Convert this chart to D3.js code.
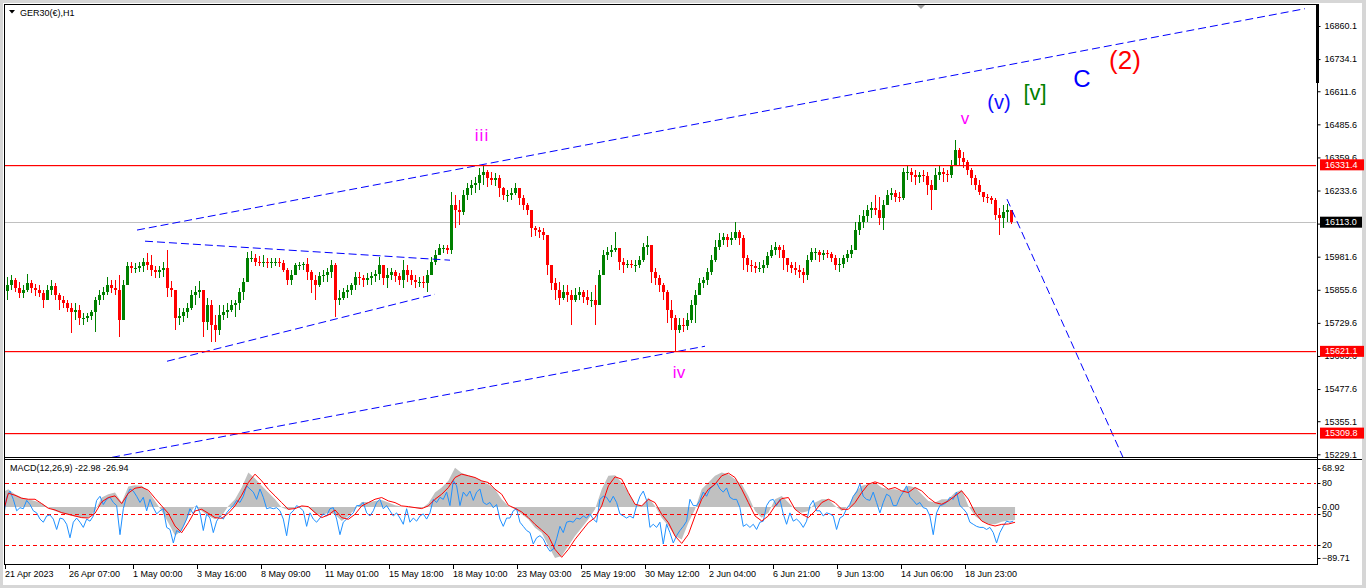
<!DOCTYPE html>
<html><head><meta charset="utf-8">
<script src="https://cdn.jsdelivr.net/npm/d3@7/dist/d3.min.js"></script>
<style>
html,body{margin:0;padding:0;background:#d6d6d6;overflow:hidden;}
svg{display:block;}
text{font-family:"Liberation Sans",Arial,sans-serif;}
</style></head><body>
<svg id="c" width="1366" height="588"></svg>
<script>
// ---------------- DATA ----------------
const symbolTitle = "GER30(€),H1";
const macdTitle = "MACD(12,26,9) -22.98 -26.94";
const barHours = 4;              // each candle below aggregates 4 H1 bars
const firstOpen = 15850;
const hi = [
15904,15911,15900,15884,15873,15915,15892,15877,15873,15854,
15873,15892,15881,15843,15831,15816,15804,15804,15797,15766,
15766,15778,15827,15854,15865,15904,15892,15892,15911,15892,
15961,15961,15957,15961,15976,15995,15987,15946,15946,15961,
16006,15888,15854,15785,15785,15804,15854,15869,15888,15854,
15824,15816,15759,15797,15797,15804,15816,15816,15862,15900,
15999,16003,15991,15984,15987,15976,15976,15976,15976,15968,
15938,15930,15957,15961,15961,15976,15930,15911,15923,15930,
15938,15968,15957,15854,15862,15873,15881,15923,15923,15911,
15919,15923,15930,15980,15949,15938,15938,15930,15919,15968,
15949,15930,15911,15904,15907,15930,15980,16006,16029,16026,
16026,16228,16216,16197,16235,16262,16273,16285,16319,16331,
16311,16304,16300,16292,16247,16235,16243,16262,16235,16216,
16186,16159,16098,16094,16090,16064,15949,15900,15884,15873,
15873,15854,15862,15865,15854,15854,15846,15873,15930,16006,
16018,16026,16075,16014,15976,15968,15968,15968,15984,16033,
16060,16026,15938,15911,15881,15854,15816,15759,15747,15747,
15766,15816,15854,15900,15904,15938,15987,16045,16071,16071,
16067,16075,16113,16083,16064,15987,15968,15961,15961,15968,
15999,16026,16037,16026,16026,15976,15961,15961,15949,15938,
15987,16014,16014,16006,16006,16006,15999,15987,15976,15987,
16006,16026,16113,16140,16159,16178,16189,16216,16208,16197,
16235,16243,16235,16228,16319,16330,16319,16311,16304,16311,
16304,16273,16319,16327,16319,16311,16349,16426,16395,16380,
16349,16319,16292,16273,16220,16220,16212,16205,16166,16178,
16182,16159];
const lo = [
15816,15854,15846,15824,15824,15846,15843,15831,15827,15785,
15816,15835,15816,15778,15785,15770,15690,15740,15721,15721,
15732,15740,15694,15797,15816,15835,15843,15835,15675,15740,
15892,15919,15919,15923,15923,15930,15907,15900,15900,15904,
15827,15827,15702,15721,15732,15747,15778,15797,15824,15675,
15702,15656,15656,15682,15740,15747,15770,15751,15778,15816,
15892,15961,15946,15946,15942,15938,15938,15946,15942,15923,
15873,15873,15911,15930,15930,15892,15843,15816,15865,15884,
15884,15900,15751,15797,15816,15824,15835,15854,15873,15865,
15873,15873,15884,15892,15873,15862,15892,15884,15873,15862,
15884,15873,15862,15865,15862,15846,15911,15949,15987,15995,
15991,15991,16090,16102,16140,16197,16216,16224,16235,16254,
16247,16254,16250,16208,16197,16189,16197,16216,16178,16159,
16140,16056,16060,16052,16045,15911,15854,15816,15797,15816,
15808,15721,15808,15816,15804,15797,15789,15721,15797,15911,
15968,15980,15999,15930,15919,15938,15938,15923,15938,15961,
15987,15881,15873,15846,15816,15728,15702,15621,15690,15694,
15702,15728,15728,15854,15862,15873,15911,15961,16006,16026,
16018,16026,16045,16026,15930,15923,15923,15919,15923,15919,
15938,15976,15987,15976,15930,15923,15919,15911,15900,15881,
15892,15961,15968,15961,15968,15976,15961,15930,15923,15938,
15961,15976,16006,16064,16090,16113,16128,16140,16102,16083,
16189,16197,16189,16189,16197,16273,16266,16254,16262,16266,
16216,16159,16243,16273,16266,16266,16281,16330,16330,16319,
16292,16254,16235,16216,16189,16186,16182,16121,16064,16090,
16113,16106];
const cl = [
15873,15892,15862,15843,15854,15881,15862,15854,15843,15816,
15854,15869,15835,15816,15804,15785,15770,15778,15747,15747,
15755,15770,15816,15835,15846,15873,15862,15854,15740,15873,
15946,15938,15938,15946,15961,15949,15930,15923,15930,15938,
15862,15854,15747,15755,15770,15785,15835,15846,15854,15732,
15797,15721,15702,15759,15770,15778,15797,15804,15846,15884,
15976,15976,15961,15957,15961,15957,15961,15961,15957,15930,
15892,15911,15949,15949,15953,15923,15892,15873,15907,15911,
15923,15949,15816,15824,15846,15854,15873,15904,15900,15892,
15900,15907,15915,15949,15900,15911,15923,15907,15892,15930,
15911,15892,15884,15884,15881,15911,15961,15987,16014,16014,
16006,16178,16159,16151,16216,16243,16254,16262,16292,16304,
16281,16273,16281,16243,16216,16216,16224,16243,16205,16178,
16159,16090,16083,16075,16064,15949,15881,15854,15824,15846,
15835,15816,15835,15846,15827,15816,15816,15797,15911,15987,
15999,16006,16014,15961,15949,15953,15949,15949,15968,16018,
16026,15923,15900,15873,15846,15778,15747,15702,15721,15717,
15740,15797,15835,15881,15892,15923,15968,16018,16045,16056,
16045,16052,16075,16052,15976,15949,15946,15938,15938,15949,
15984,16006,16018,16006,15976,15949,15938,15930,15923,15911,
15968,15999,15999,15987,15995,15991,15976,15949,15953,15976,
15991,16006,16083,16113,16136,16159,16166,16159,16128,16178,
16216,16224,16208,16205,16304,16304,16292,16285,16292,16288,
16254,16235,16292,16304,16296,16292,16330,16388,16357,16342,
16311,16281,16254,16228,16208,16205,16197,16140,16128,16151,
16159,16113];

const bidPrice = 16113.0;
const levelPrices = [16331.4, 15621.1, 15309.8];
const priceTicks = [16860.1,16734.1,16611.6,16485.6,16359.6,16233.6,16107.6,15981.6,15855.6,15729.6,15603.6,15477.6,15355.1,15229.1];
const priceDomain = [15229.1, 16860.1];

const timeLabels = ["21 Apr 2023","26 Apr 07:00","1 May 00:00","3 May 16:00","8 May 09:00","11 May 01:00","15 May 18:00","18 May 10:00","23 May 03:00","25 May 19:00","30 May 12:00","2 Jun 04:00","6 Jun 21:00","9 Jun 13:00","14 Jun 06:00","18 Jun 23:00"];
const hoursPerLabel = 64;

// trend lines: [hourA, priceA, hourB, priceB]
const trendLines = [
  [132,16083, 1300,16926],
  [107,15217.5, 700,15640.6],
  [162,15583.5, 430,15838.8],
  [140,16040.7, 445,15968.3],
  [1002,16200.8, 1118,15217.5]
];

// Elliott wave labels
const waveText  = ["iii","iv","v","(v)","[v]","C","(2)"];
const waveHour  = [477, 674, 960, 994, 1030, 1077, 1120];
const wavePrice = [16445, 15541, 16510, 16570, 16609, 16658, 16730];

// MACD histogram (main) and signal, sampled every ~6.67 hours
const macdStartHour = -3.33, macdStepHours = 6.667;
const macdMain = [
25.3,31.1,22.3,16.5,13.5,10.6,6.5,-1.2,-7.1,-11.2,
-14.1,-17.0,-18.8,-18.8,-7.1,16.5,22.3,25.3,7.6,35.8,
38.2,37.0,28.2,10.6,-7.1,-27.6,-50.0,-42.3,-15.9,1.8,
-7.1,-15.9,-21.7,-15.9,1.8,13.5,34.1,60.5,50.0,37.0,
25.3,13.5,-1.2,-5.3,-1.2,1.8,-1.2,-11.2,-14.7,-10.0,
-12.9,-24.7,-15.9,-4.1,8.8,8.8,10.6,12.3,7.6,2.9,
0.6,-1.2,-1.8,-2.9,6.5,25.3,34.1,45.8,68.92,59.4,
55.8,51.7,45.8,40.0,31.1,
13.5,1.8,-4.1,-12.9,-21.7,-36.4,-45.3,-68.8,-89.71,-86.4,
-68.8,-51.1,-36.4,-21.7,-4.1,31.1,54.7,55.8,42.9,25.3,
4.7,1.8,16.5,1.8,-18.8,-33.5,-51.1,-57.0,-27.6,-4.1,
31.1,42.9,54.7,60.5,57.6,48.8,40.0,19.4,-7.1,-18.8,
-10.0,13.5,19.4,7.6,-4.1,-10.0,-7.1,7.6,13.5,13.5,
1.8,-7.1,1.8,25.3,37.0,40.0,42.9,34.1,31.1,31.1,
28.2,37.0,34.1,22.3,10.6,7.6,13.5,13.5,25.3,30.0,
1.8,-15.9,-24.7,-30.6,-30.6,-26.0,-24.0,-22.98];
const macdSignal = [
-18.8,24.1,20.6,15.3,13.5,13.5,5.9,-2.4,-5.3,-10.0,
-12.9,-15.9,-18.8,-19.4,-11.2,8.8,16.5,19.4,5.9,24.1,
32.9,34.7,29.4,15.3,1.8,-11.2,-33.5,-45.3,-27.6,-7.1,
-4.1,-11.2,-18.8,-20.0,-11.2,1.8,20.6,42.9,57.6,45.8,
31.1,19.4,7.6,-4.1,-2.9,1.8,0.6,-10.0,-18.8,-14.1,
-5.3,-18.8,-21.7,-12.9,1.8,7.6,13.5,16.5,10.6,7.6,
1.8,0.6,-1.2,-2.9,1.8,13.5,22.3,34.1,51.7,57.6,
54.7,51.7,45.8,42.9,31.1,
22.3,2.9,-2.4,-8.8,-18.8,-30.6,-40.6,-51.1,-74.6,-88.5,
-74.6,-57.0,-42.3,-27.6,-18.8,1.8,37.0,52.9,48.8,25.3,
4.7,1.8,13.5,7.6,-12.9,-27.6,-51.1,-64.1,-48.2,-15.9,
13.5,31.1,40.0,54.7,59.4,51.7,31.1,7.6,-15.9,-24.7,
-15.9,1.8,14.7,16.5,-4.1,-12.9,-18.8,-7.1,7.6,13.5,
7.6,-4.1,-4.1,7.6,25.3,40.0,44.1,40.0,31.1,34.1,
28.2,25.3,34.1,28.2,16.5,7.6,4.7,10.6,19.4,28.2,
13.5,-10.0,-24.7,-30.6,-33.5,-30.6,-30.0,-26.94];
const macdLabels = [68.92, 0.00, -89.71];

// Oscillator (0-100 scale) drawn in the same sub-window, every ~3.33 hours
const oscStartHour = -1.67, oscStepHours = 3.333;
const osc = [
46,66,72,64,53,56,55,63,59,53, 51,45,42,48,49,45,35,46,45,40,
27,42,46,42,37,45,43,48,63,67, 59,64,66,61,58,30,55,67,74,72,
67,61,66,53,64,56,50,53,55,37, 35,22,34,32,38,45,55,50,58,51,
34,50,46,32,43,48,45,51,55,58, 63,61,67,77,74,71,64,74,66,55,
56,55,56,53,45,29,50,53,58,56, 53,38,51,45,42,46,50,48,55,56,
45,30,42,45,48,51,58,58,61,51, 48,53,61,64,55,58,53,48,51,46,
40,55,42,46,43,48,50,45,51,64, 61,66,64,71,58,82,77,58,71,67,
72,63,71,74,61,59,61,56,59,
45,38,46,46,53,55,42,38,34,32, 21,27,29,26,19,14,16,26,38,32,
42,43,42,46,45,48,46,50,45,42, 64,67,66,61,67,61,50,48,46,48,
46,58,67,72,63,37,40,37,42,21, 40,32,22,29,34,38,43,64,58,58,
63,71,67,74,77,80,74,71,75,66, 64,64,56,38,40,37,40,35,42,43,
58,63,64,58,64,50,40,51,43,45, 42,37,43,58,63,53,53,48,51,50,
48,35,46,48,55,59,67,71,79,67, 64,63,71,61,51,61,69,67,58,58,
66,71,77,66,63,59,61,56,55,48, 30,51,58,59,61,66,64,71,58,55,
51,42,40,38,37,37,35,37,32,22, 32,38,43,42,43];
const oscLevels = [80, 50, 20];

// ---------------- STYLE / LAYOUT ----------------
const L = 5, R = 1316, AX = 1317.5;
const mainTop = 5, mainBot = 457, subTop = 460, subBot = 564;
const upColor = "#008000", dnColor = "#ff0000";
const levelColor = "rgb(255,0,0)";
const waveColor = ["#ff00ff","#ff00ff","#ff00ff","#1010ff","#008000","#0000ff","#ff0000"];
const waveSize  = [17,17,17,20,22,24,26];
const FONT = 9;

const svg = d3.select("#c");
svg.append("rect").attr("width",1366).attr("height",588).attr("fill","#d6d6d6");
svg.append("rect").attr("x",3).attr("y",3).attr("width",1359).attr("height",582).attr("fill","#ffffff");

const x = d3.scaleLinear().domain([0, R - L]).range([L, R]);
const y = d3.scaleLinear().domain(priceDomain).range([454.3, 26]);
const mY = d3.scaleLinear().domain(d3.extent(macdMain.concat(macdSignal))).range([558, 467.7]);
const oY = d3.scaleLinear().domain([0,100]).range([565.8, 462]);

const defs = svg.append("defs");
defs.append("clipPath").attr("id","cm").append("rect").attr("x",L).attr("y",mainTop).attr("width",R-L).attr("height",mainBot-mainTop);
defs.append("clipPath").attr("id","cs").append("rect").attr("x",L).attr("y",subTop).attr("width",R-L).attr("height",subBot-subTop);

// bid line
svg.append("rect").attr("x",L).attr("width",R-L).attr("y",Math.round(y(bidPrice))).attr("height",1)
  .style("fill","#c0c0c0");

const gm = svg.append("g").attr("clip-path","url(#cm)");

// candles
const candles = hi.map((h,i)=>{
  const o = i===0 ? firstOpen : cl[i-1];
  return {i, o, h, l: lo[i], c: cl[i]};
});
const gc = gm.append("g").attr("shape-rendering","crispEdges");
gc.selectAll("line").data(candles).join("line")
  .attr("x1",d=>x(d.i*barHours+2)).attr("x2",d=>x(d.i*barHours+2))
  .attr("y1",d=>y(Math.max(d.h,d.o))).attr("y2",d=>y(Math.min(d.l,d.o)))
  .style("stroke",d=>d.c>=d.o?upColor:dnColor).style("stroke-width",1);
gc.selectAll("rect").data(candles).join("rect")
  .attr("x",d=>x(d.i*barHours+0.5)).attr("width",3)
  .attr("y",d=>y(Math.max(d.o,d.c))).attr("height",d=>Math.max(1,Math.abs(y(d.o)-y(d.c))))
  .style("fill",d=>d.c>=d.o?upColor:dnColor);

// trend lines
const gTr = gm.append("g");
gTr.selectAll("line").data(trendLines).join("line")
  .attr("x1",d=>x(d[0])).attr("y1",d=>y(d[1])).attr("x2",d=>x(d[2])).attr("y2",d=>y(d[3]))
  .style("stroke","#0000ff").style("stroke-width",1).style("stroke-dasharray","8,4");

// wave labels
const gWv = gm.append("g");
gWv.selectAll("text").data(waveText).join("text")
  .attr("x",(d,i)=>x(waveHour[i])).attr("y",(d,i)=>y(wavePrice[i])).attr("dy","0.35em")
  .attr("text-anchor","middle").style("fill",(d,i)=>waveColor[i]).attr("font-size",(d,i)=>waveSize[i])
  .attr("letter-spacing",(d,i)=>i===0?1:0).text(d=>d);

// horizontal red levels, drawn as 1px filled rects on top
const gLvl = svg.append("g");
gLvl.selectAll("rect").data(levelPrices).join("rect")
  .attr("x",L).attr("width",R-L).attr("y",d=>Math.round(y(d))).attr("height",1.2)
  .style("fill",levelColor);

// ---- sub window ----
const gs = svg.append("g").attr("clip-path","url(#cs)");
const mx = (d,i)=>x(macdStartHour + i*macdStepHours);
gs.append("path").datum(macdMain)
  .attr("d", d3.area().x(mx).y0(mY(0)).y1(d=>mY(d)))
  .style("fill","#c0c0c0");
const gLv = gs.append("g");
gLv.selectAll("line").data(oscLevels).join("line")
  .attr("x1",L).attr("x2",R).attr("y1",d=>Math.round(oY(d))+0.5).attr("y2",d=>Math.round(oY(d))+0.5)
  .style("stroke","#ff0000").style("stroke-dasharray","4,3").style("stroke-width",1);
gs.append("path").datum(osc)
  .attr("d", d3.line().x((d,i)=>x(oscStartHour+i*oscStepHours)).y(d=>oY(d)))
  .style("fill","none").style("stroke","#1e90ff").style("stroke-width",1);
gs.append("path").datum(macdSignal)
  .attr("d", d3.line().x(mx).y(d=>mY(d)))
  .style("fill","none").style("stroke","#ff0000").style("stroke-width",1);

// ---- frames ----
const fr = svg.append("g").style("stroke","#000").style("stroke-width",1).attr("shape-rendering","crispEdges");
fr.append("line").attr("x1",4.5).attr("x2",4.5).attr("y1",4).attr("y2",565);
fr.append("line").attr("x1",4).attr("x2",AX).attr("y1",4.5).attr("y2",4.5);
fr.append("line").attr("x1",4).attr("x2",AX).attr("y1",457.5).attr("y2",457.5);
fr.append("line").attr("x1",4).attr("x2",1362).attr("y1",459.5).attr("y2",459.5);
fr.append("line").attr("x1",4).attr("x2",AX).attr("y1",564.5).attr("y2",564.5);
fr.append("line").attr("x1",AX).attr("x2",AX).attr("y1",4).attr("y2",565);
svg.append("rect").attr("x",1316).attr("y",4).attr("width",3).attr("height",79).style("fill","#000");
svg.append("path").attr("d","M917,5 L925,5 L921,9 Z").style("fill","#a0a0a0");

// header
svg.append("path").attr("d","M9,10 L15,10 L12,13.5 Z").style("fill","#000");
svg.append("text").attr("x",20).attr("y",16).attr("font-size",FONT).style("fill","#000").text(symbolTitle);
svg.append("text").attr("x",10).attr("y",471).attr("font-size",FONT).style("fill","#000").text(macdTitle);

// price axis
const ya = svg.append("g").attr("transform",`translate(${AX},0)`)
  .call(d3.axisRight(y).tickValues(priceTicks).tickSize(3).tickPadding(4).tickFormat(d3.format(".1f")));
ya.select(".domain").remove();
ya.selectAll("text").attr("font-size",FONT).attr("font-family","Liberation Sans, Arial, sans-serif").style("fill","#000");
ya.selectAll("line").style("stroke","#000");

// level tags on axis
const tags = levelPrices.map(v=>({v, bg:"#ff0000", w:44})).concat([{v:bidPrice, bg:"#000000", w:42}]);
const tg = svg.append("g");
tg.selectAll("rect").data(tags).join("rect")
  .attr("x",1320).attr("width",d=>d.w).attr("y",d=>y(d.v)-5.5).attr("height",11).style("fill",d=>d.bg);
tg.selectAll("text").data(tags).join("text")
  .attr("x",1325).attr("y",d=>y(d.v)).attr("dy","0.33em").attr("font-size",FONT).style("fill","#fff")
  .text(d=>d3.format(".1f")(d.v));

// sub window axis labels
const subLabels = [
  {t:d3.format(".2f")(macdLabels[0]), yy:mY(macdLabels[0])},
  {t:String(oscLevels[0]), yy:oY(oscLevels[0])},
  {t:d3.format(".2f")(macdLabels[1]), yy:mY(macdLabels[1])},
  {t:String(oscLevels[1]), yy:oY(oscLevels[1])},
  {t:String(oscLevels[2]), yy:oY(oscLevels[2])},
  {t:d3.format(".2f")(macdLabels[2]), yy:mY(macdLabels[2])}
];
const sl = svg.append("g");
sl.selectAll("line").data(subLabels).join("line")
  .attr("x1",AX).attr("x2",AX+3).attr("y1",d=>Math.round(d.yy)+0.5).attr("y2",d=>Math.round(d.yy)+0.5).style("stroke","#000");
sl.selectAll("text").data(subLabels).join("text")
  .attr("x",1322).attr("y",d=>d.yy).attr("dy","0.33em").attr("font-size",FONT).style("fill","#000").text(d=>d.t);

// time axis
const tx = svg.append("g");
tx.selectAll("line").data(timeLabels).join("line")
  .attr("x1",(d,i)=>Math.round(x(i*hoursPerLabel))+0.5).attr("x2",(d,i)=>Math.round(x(i*hoursPerLabel))+0.5)
  .attr("y1",565).attr("y2",569).style("stroke","#000");
tx.selectAll("text").data(timeLabels).join("text")
  .attr("x",(d,i)=>x(i*hoursPerLabel)).attr("y",577).attr("font-size",FONT).style("fill","#000").text(d=>d);
</script></body></html>
